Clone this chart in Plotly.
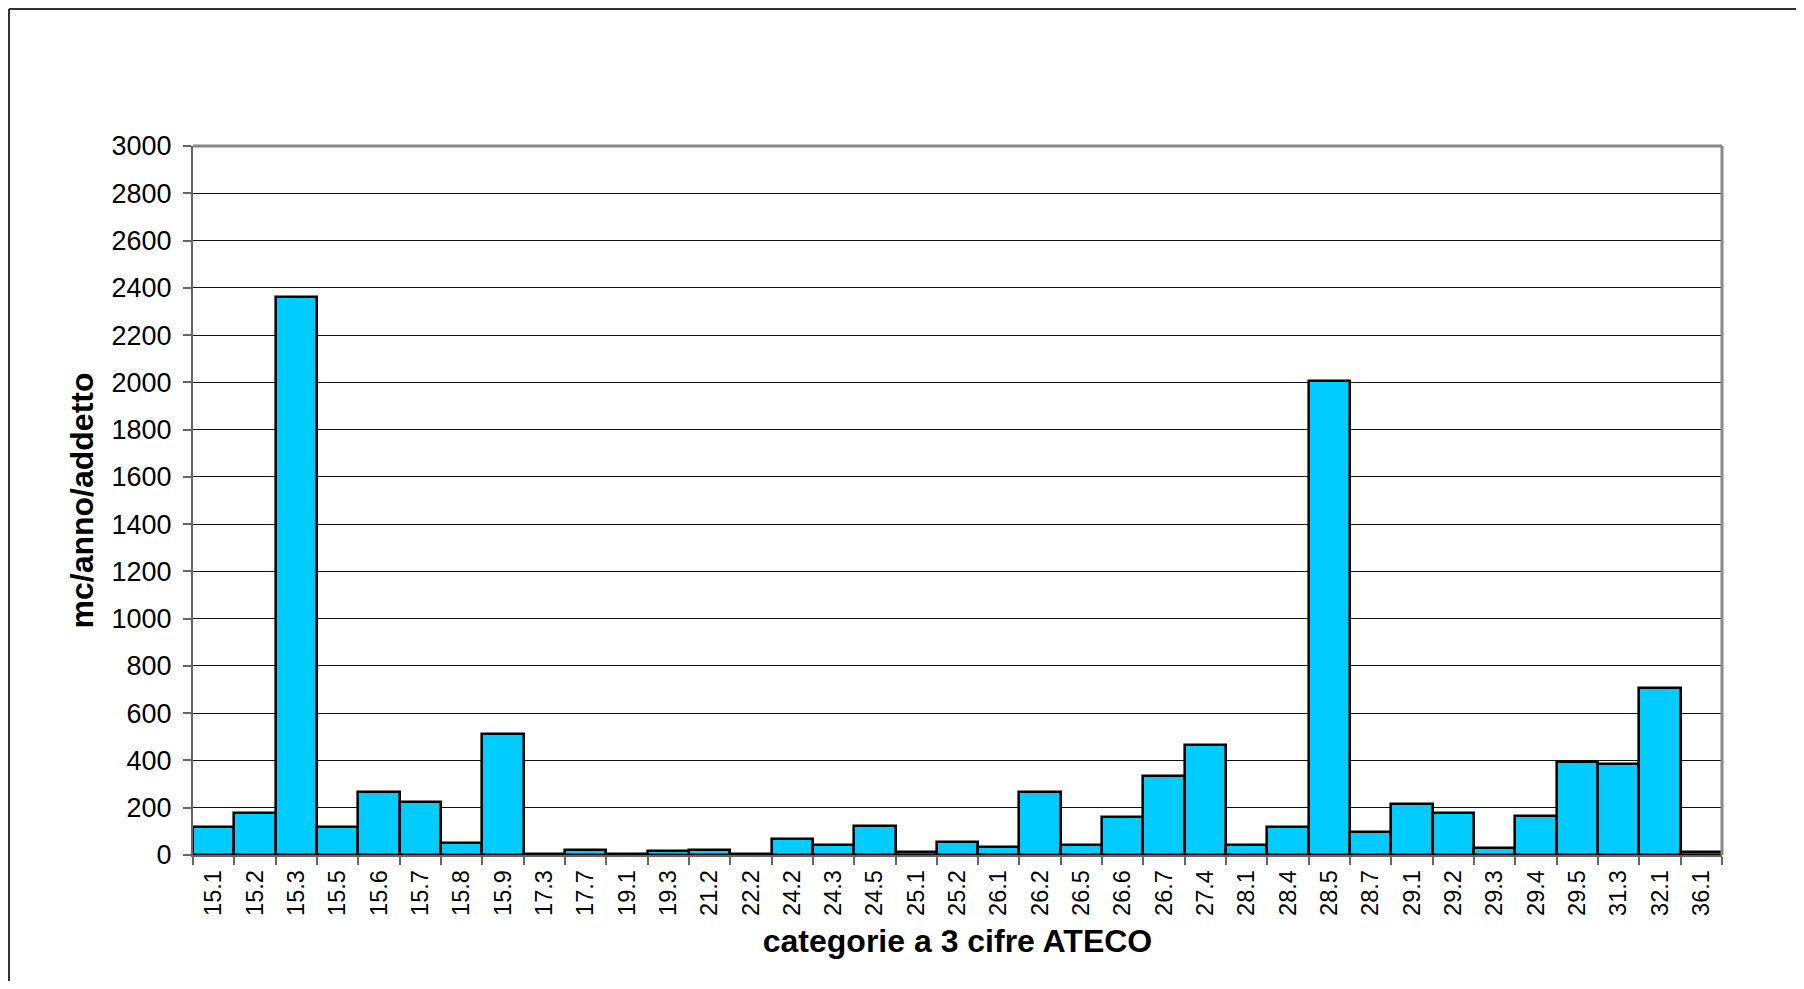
import plotly.graph_objects as go

categories = ["15.1", "15.2", "15.3", "15.5", "15.6", "15.7", "15.8", "15.9", "17.3", "17.7",
              "19.1", "19.3", "21.2", "22.2", "24.2", "24.3", "24.5", "25.1", "25.2", "26.1",
              "26.2", "26.5", "26.6", "26.7", "27.4", "28.1", "28.4", "28.5", "28.7", "29.1",
              "29.2", "29.3", "29.4", "29.5", "31.3", "32.1", "36.1"]
values = [117, 178, 2363, 120, 267, 223, 50, 510, 3, 21,
          3, 18, 21, 4, 66, 44, 124, 11, 56, 34,
          265, 44, 161, 334, 466, 42, 118, 2006, 96, 217,
          178, 31, 163, 394, 384, 705, 11]
y_ticks = list(range(0, 3001, 200))

# page body has an 8px margin; figure is sized to fit inside the window
OFF = 8
W, H = 1804 - 2 * OFF, 989 - 2 * OFF
L, R, T, B = 193 - OFF, 1722 - OFF, 146 - OFF, 855 - OFF
pw, ph = R - L, B - T

fig = go.Figure(go.Bar(
    x=categories, y=values,
    marker=dict(color="#00CCFF", line=dict(color="#000000", width=2.6)),
    width=1.0,
))

font_family = "Liberation Sans, Arial, sans-serif"

fig.update_layout(
    width=W, height=H,
    margin=dict(l=L, r=W - R, t=T, b=H - B, pad=0),
    paper_bgcolor="white", plot_bgcolor="white",
    showlegend=False,
    bargap=0,
    font=dict(family=font_family, color="#000000"),
    xaxis=dict(
        type="category",
        tickangle=-90,
        tickfont=dict(size=23.5, family=font_family, color="#000"),
        tickson="boundaries",
        ticks="outside", ticklen=8, tickcolor="#666", tickwidth=1.5,
        ticklabelstandoff=4,
        showline=True, linecolor="#666", linewidth=1.5,
        showgrid=False,
        title=dict(text="<b>categorie a 3 cifre ATECO</b>", font=dict(size=32, family=font_family), standoff=15),
        range=[-0.5, len(categories) - 0.5],
    ),
    yaxis=dict(
        range=[0, 3000],
        tickvals=y_ticks,
        tickfont=dict(size=27, family=font_family, color="#000"),
        ticks="outside", ticklen=8, tickcolor="#666", tickwidth=1.5,
        ticklabelstandoff=6,
        showline=True, linecolor="#666", linewidth=2,
        showgrid=True, gridcolor="#111", gridwidth=1,
        zeroline=False,
        title=dict(text="<b>mc/anno/addetto</b>", font=dict(size=32, family=font_family), standoff=8),
    ),
    shapes=[
        dict(type="line", xref="paper", yref="paper", x0=0, x1=1, y0=1, y1=1,
             line=dict(color="#888888", width=3), layer="above"),
        dict(type="line", xref="paper", yref="paper", x0=1, x1=1, y0=0, y1=1,
             line=dict(color="#888888", width=3), layer="above"),
        dict(type="line", xref="paper", yref="paper",
             x0=(1 - L) / pw, x1=(W + 20 - L) / pw, y0=(B - 1) / ph, y1=(B - 1) / ph,
             line=dict(color="#333333", width=2)),
        dict(type="line", xref="paper", yref="paper",
             x0=(1 - L) / pw, x1=(1 - L) / pw, y0=(B - 1) / ph, y1=(B - H - 20) / ph,
             line=dict(color="#333333", width=2)),
    ],
)

fig.write_html("out.html")
